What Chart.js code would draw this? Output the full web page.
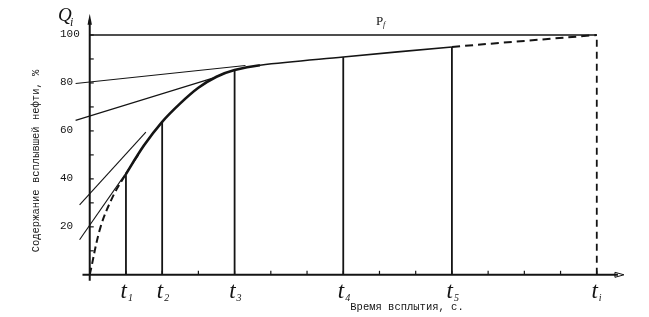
<!DOCTYPE html>
<html>
<head>
<meta charset="utf-8">
<script src="https://cdn.jsdelivr.net/npm/chart.js@4/dist/chart.umd.min.js"></script>
<style>
    html, body { margin: 0; padding: 0; background: #fff; }
    #chart { display: block; }
</style>
</head>
<body>
<canvas id="chart" width="649" height="317"></canvas>
<script>
// time marks on the x axis (grid units) and their subscripts
var tPositions = [1, 2, 4, 7, 10, 14];
var tSubs = ['1', '2', '3', '4', '5', 'i'];
var yTickLabels = [20, 40, 60, 80, 100];

// the whole Q(t) curve: dashed before t1, thick t1..t3, thin to t5, dashed to ti
var curveT = [0, 0.3, 0.65, 1, 1.5, 2, 2.5, 3, 3.5, 4, 4.7, 7, 10, 14];
var curveQ = [0, 20, 33, 42, 54, 63.8, 71.5, 78, 82.6, 85.4, 87.4, 90.8, 95, 100];

// limit line P
var limitT = [0, 14];
var limitQ = [100, 100];

// tangent lines
var tangentStartT = [-0.39, -0.39, -0.28, -0.28];
var tangentStartQ = [79.8, 64.4, 29.2, 14.6];
var tangentEndT = [4.3, 3.4, 1.55, 1.35];
var tangentEndQ = [87.3, 82, 59.5, 50];

// heights of the vertical lines at t1..t5
var verticalQ = [42, 63.8, 85.4, 90.8, 95];

var INK = '#141414';

function pts(ts, qs) {
    return ts.map(function (t, i) { return { x: t, y: qs[i] }; });
}

function lineSet(data, width, dash) {
    return {
        data: data,
        borderColor: INK,
        borderWidth: width,
        borderDash: dash || [],
        pointRadius: 0,
        fill: false,
        clip: false,
        tension: 0
    };
}

var datasets = [];
datasets.push(lineSet(pts(limitT, limitQ), 1.3));
tangentStartT.forEach(function (t, i) {
    datasets.push(lineSet([{ x: t, y: tangentStartQ[i] }, { x: tangentEndT[i], y: tangentEndQ[i] }], 1.1));
});
verticalQ.forEach(function (q, i) {
    datasets.push(lineSet([{ x: tPositions[i], y: 0 }, { x: tPositions[i], y: q }], 1.8));
});
datasets.push(lineSet([{ x: 14, y: 0 }, { x: 14, y: 100 }], 1.8, [7, 5]));

var curve = lineSet(pts(curveT, curveQ), 2.6);
curve.tension = 0.35;
curve.segment = {
    borderDash: function (ctx) {
        var x = ctx.p0.parsed.x;
        if (x < 1) return [7, 4];
        if (x >= 10) return [8, 5];
        return [];
    },
    borderWidth: function (ctx) {
        var x = ctx.p0.parsed.x;
        if (x < 1 || x >= 10) return 2;
        if (x >= 4.7) return 1.6;
        return 2.6;
    }
};
datasets.push(curve);

var axesPlugin = {
    id: 'axesPlugin',
    beforeDraw: function (chart) {
        var c = chart.ctx;
        c.save();
        c.fillStyle = '#fff';
        c.fillRect(0, 0, chart.width, chart.height);
        c.restore();
    },
    afterDatasetsDraw: function (chart) {
        var c = chart.ctx;
        var xs = chart.scales.x;
        var ys = chart.scales.y;
        var x0 = xs.getPixelForValue(0);
        var y0 = ys.getPixelForValue(0);
        c.save();
        c.strokeStyle = INK;
        c.fillStyle = INK;

        // y axis with arrow
        var yTop = ys.getPixelForValue(108);
        c.lineWidth = 2;
        c.beginPath();
        c.moveTo(x0, ys.getPixelForValue(-2.5));
        c.lineTo(x0, yTop + 4);
        c.stroke();
        c.beginPath();
        c.moveTo(x0, yTop - 2);
        c.lineTo(x0 - 2.2, yTop + 9);
        c.lineTo(x0 + 2.2, yTop + 9);
        c.closePath();
        c.fill();

        // x axis with arrow
        var xEnd = xs.getPixelForValue(14.75);
        c.lineWidth = 2;
        c.beginPath();
        c.moveTo(xs.getPixelForValue(-0.2), y0);
        c.lineTo(xEnd - 6, y0);
        c.stroke();
        c.lineWidth = 1;
        c.beginPath();
        c.moveTo(xEnd, y0);
        c.lineTo(xEnd - 9, y0 - 2.5);
        c.lineTo(xEnd - 9, y0 + 2.5);
        c.closePath();
        c.stroke();

        // small ticks
        c.lineWidth = 1.2;
        for (var t = 1; t <= 14; t++) {
            var px = xs.getPixelForValue(t);
            c.beginPath();
            c.moveTo(px, y0);
            c.lineTo(px, y0 - 4);
            c.stroke();
        }
        for (var q = 10; q <= 100; q += 10) {
            var py = ys.getPixelForValue(q);
            c.beginPath();
            c.moveTo(x0, py);
            c.lineTo(x0 + 4, py);
            c.stroke();
        }

        // y tick labels
        c.font = '11px "Liberation Mono", monospace';
        c.textAlign = 'left';
        c.textBaseline = 'middle';
        yTickLabels.forEach(function (v) {
            c.fillText(String(v), 60, ys.getPixelForValue(v) - 1);
        });

        // t labels
        tPositions.forEach(function (t, i) {
            var px = xs.getPixelForValue(t);
            c.font = 'italic 23px "Liberation Serif", serif';
            c.textAlign = 'right';
            c.textBaseline = 'alphabetic';
            c.fillText('t', px + 1, 298);
            c.font = 'italic 10px "Liberation Serif", serif';
            c.textAlign = 'left';
            c.fillText(tSubs[i], px + 2, 301);
        });

        // Q_i
        c.font = 'italic 19px "Liberation Serif", serif';
        c.textAlign = 'left';
        c.fillText('Q', 58, 21);
        c.font = 'italic 12px "Liberation Serif", serif';
        c.fillText('i', 70, 26);

        // P_f
        c.font = '13px "Liberation Serif", serif';
        c.fillText('P', 376, 25);
        c.font = 'italic 8px "Liberation Serif", serif';
        c.fillText('f', 383, 27);

        // axis titles
        c.font = '10.5px "Liberation Mono", monospace';
        c.textAlign = 'center';
        c.textBaseline = 'middle';
        c.fillText('Время всплытия, с.', 407, 307);
        c.translate(36, 161);
        c.rotate(-Math.PI / 2);
        c.fillText('Содержание всплывшей нефти, %', 0, 0);
        c.restore();
    }
};

new Chart(document.getElementById('chart'), {
    type: 'line',
    data: { datasets: datasets },
    options: {
        responsive: false,
        animation: false,
        events: [],
        layout: { padding: { left: 68, right: 16, top: 11, bottom: 35 } },
        plugins: { legend: { display: false }, tooltip: { enabled: false } },
        scales: {
            x: { type: 'linear', display: false, min: -0.6, max: 15 },
            y: { type: 'linear', display: false, min: -3, max: 110 }
        }
    },
    plugins: [axesPlugin]
});
</script>
</body>
</html>
